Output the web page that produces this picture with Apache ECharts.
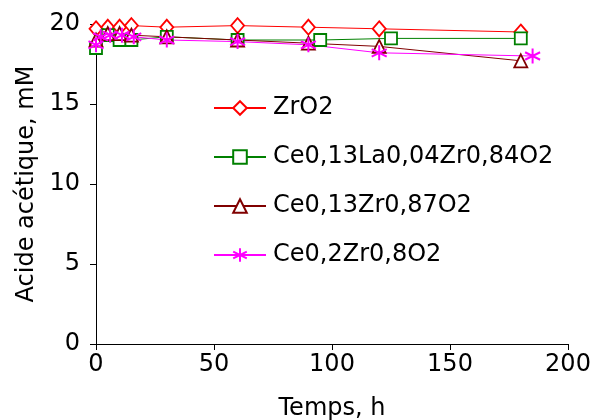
<!DOCTYPE html>
<html><head><meta charset="utf-8">
<script src="https://cdn.jsdelivr.net/npm/echarts@6/dist/echarts.min.js"></script>
<style>html,body{margin:0;padding:0;background:#fff}#c{width:592px;height:420px}</style>
</head><body><div id="c"></div>
<script>
const xTicks = [0, 50, 100, 150, 200];
const yTicks = [0, 5, 10, 15, 20];
const names = ['ZrO2', 'Ce0,13La0,04Zr0,84O2', 'Ce0,13Zr0,87O2', 'Ce0,2Zr0,8O2'];
const tZr = [0, 5, 10, 15, 30, 60, 90, 120, 180];
const vZr = [19.7, 19.8, 19.8, 19.9, 19.8, 19.9, 19.8, 19.7, 19.5];
const tLa = [0, 5, 10, 15, 30, 60, 95, 125, 180];
const vLa = [18.5, 19.3, 19.0, 19.0, 19.2, 19.0, 19.0, 19.1, 19.1];
const tCe13 = [0, 5, 10, 15, 30, 60, 90, 120, 180];
const vCe13 = [19.0, 19.4, 19.4, 19.3, 19.2, 19.0, 18.8, 18.6, 17.7];
const tCe2 = [0, 2, 6, 11, 16, 30, 60, 90, 120, 185];
const vCe2 = [18.7, 19.2, 19.3, 19.3, 19.2, 19.0, 18.9, 18.7, 18.2, 18.0];

const pairs = (t, v) => t.map((x, i) => [x, v[i]]);
const star = 'path://M0,-10L0,10M-8.66,-5L8.66,5M-8.66,5L8.66,-5';
const font = 'DejaVu Sans, sans-serif';

function ser(name, data, color, symbol, size, extra) {
  return Object.assign({
    name, type: 'line', data, symbol, symbolSize: size,
    showAllSymbol: true,
    lineStyle: { color, width: 1 },
    itemStyle: { color: '#fff', borderColor: color, borderWidth: 1.8 },
    emphasis: { disabled: true },
    animation: false, z: 3
  }, extra || {});
}

const chart = echarts.init(document.getElementById('c'));
chart.setOption({
  animation: false,
  grid: { left: 96, right: 24, top: 24, bottom: 76, containLabel: false, outerBoundsMode: 'none' },
  legend: {
    orient: 'vertical', left: 208, top: 91,
    itemWidth: 52, itemHeight: 17, itemGap: 25,
    textStyle: { fontFamily: font, fontSize: 24, color: '#000', padding: [0, 0, 0, 2] },
    data: names
  },
  xAxis: {
    type: 'value', min: 0, max: 200, interval: 50,
    name: 'Temps, h', nameLocation: 'middle', nameGap: 53,
    nameTextStyle: { fontFamily: font, fontSize: 24, color: '#000' },
    axisLine: { show: true, lineStyle: { color: '#000', width: 1 } },
    axisTick: { show: true, inside: false, length: 6, lineStyle: { color: '#000' } },
    axisLabel: { fontFamily: font, fontSize: 24, color: '#000', margin: 9,
      formatter: v => xTicks.includes(v) ? String(v) : '' },
    splitLine: { show: false }
  },
  yAxis: {
    type: 'value', min: 0, max: 20, interval: 5,
    name: 'Acide acétique, mM', nameLocation: 'middle', nameGap: 56,
    nameTextStyle: { fontFamily: font, fontSize: 24, color: '#000' },
    axisLine: { show: true, lineStyle: { color: '#000', width: 1 } },
    axisTick: { show: true, inside: false, length: 6, lineStyle: { color: '#000' } },
    axisLabel: { fontFamily: font, fontSize: 24, color: '#000', margin: 16,
      formatter: v => yTicks.includes(v) ? String(v) : '' },
    splitLine: { show: false }
  },
  series: [
    ser(names[0], pairs(tZr, vZr), '#FF0000', 'diamond', [13, 15]),
    ser(names[1], pairs(tLa, vLa), '#008000', 'rect', 12),
    ser(names[2], pairs(tCe13, vCe13), '#800000', 'triangle', 13),
    ser(names[3], pairs(tCe2, vCe2), '#FF00FF', star, 15,
      { itemStyle: { color: '#FF00FF', borderColor: '#FF00FF', borderWidth: 2 } })
  ]
});
</script></body></html>
